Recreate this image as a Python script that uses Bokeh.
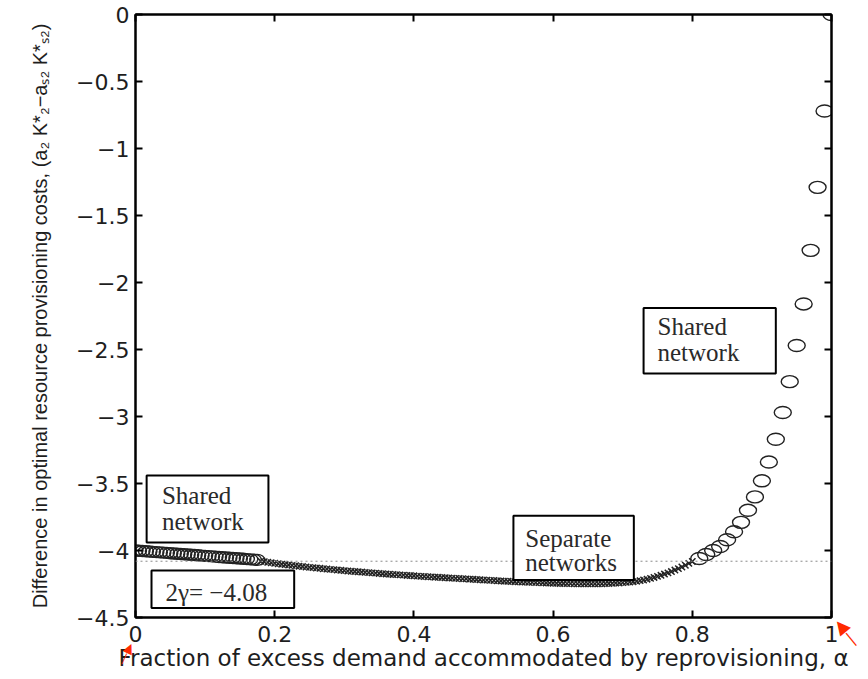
import math
from bokeh.plotting import figure
from bokeh.models import (Range1d, LinearAxis, FixedTicker, Span, BoxAnnotation, Label)
from bokeh.embed import file_html
from bokeh.resources import INLINE

# ---------------- data ----------------
left_pts = [
    (0.000, -4.000), (0.005, -4.002), (0.010, -4.004), (0.015, -4.006), (0.020, -4.008),
    (0.025, -4.010), (0.030, -4.012), (0.035, -4.014), (0.040, -4.016), (0.045, -4.018),
    (0.050, -4.020), (0.055, -4.022), (0.060, -4.024), (0.065, -4.026), (0.070, -4.028),
    (0.075, -4.030), (0.080, -4.032), (0.085, -4.034), (0.090, -4.036), (0.095, -4.038),
    (0.100, -4.040), (0.105, -4.042), (0.110, -4.044), (0.115, -4.046), (0.120, -4.048),
    (0.125, -4.050), (0.130, -4.052), (0.135, -4.054), (0.140, -4.056), (0.145, -4.058),
    (0.150, -4.060), (0.155, -4.062), (0.160, -4.064), (0.165, -4.066), (0.170, -4.068),
    (0.175, -4.070),
]
mid_pts = [
    (0.180, -4.080), (0.185, -4.084), (0.190, -4.088), (0.195, -4.092), (0.200, -4.095),
    (0.205, -4.099), (0.210, -4.102), (0.215, -4.105), (0.220, -4.108), (0.225, -4.111),
    (0.230, -4.114), (0.235, -4.117), (0.240, -4.120), (0.245, -4.123), (0.250, -4.126),
    (0.255, -4.128), (0.260, -4.131), (0.265, -4.133), (0.270, -4.136), (0.275, -4.138),
    (0.280, -4.141), (0.285, -4.143), (0.290, -4.146), (0.295, -4.148), (0.300, -4.150),
    (0.305, -4.153), (0.310, -4.155), (0.315, -4.157), (0.320, -4.159), (0.325, -4.161),
    (0.330, -4.163), (0.335, -4.165), (0.340, -4.167), (0.345, -4.169), (0.350, -4.171),
    (0.355, -4.173), (0.360, -4.175), (0.365, -4.177), (0.370, -4.179), (0.375, -4.180),
    (0.380, -4.182), (0.385, -4.184), (0.390, -4.186), (0.395, -4.187), (0.400, -4.189),
    (0.405, -4.191), (0.410, -4.193), (0.415, -4.194), (0.420, -4.196), (0.425, -4.197),
    (0.430, -4.199), (0.435, -4.200), (0.440, -4.202), (0.445, -4.203), (0.450, -4.205),
    (0.455, -4.206), (0.460, -4.208), (0.465, -4.209), (0.470, -4.211), (0.475, -4.212),
    (0.480, -4.214), (0.485, -4.215), (0.490, -4.217), (0.495, -4.218), (0.500, -4.220),
    (0.505, -4.221), (0.510, -4.223), (0.515, -4.224), (0.520, -4.226), (0.525, -4.227),
    (0.530, -4.229), (0.535, -4.230), (0.540, -4.231), (0.545, -4.233), (0.550, -4.234),
    (0.555, -4.235), (0.560, -4.236), (0.565, -4.237), (0.570, -4.238), (0.575, -4.239),
    (0.580, -4.240), (0.585, -4.241), (0.590, -4.242), (0.595, -4.243), (0.600, -4.244),
    (0.605, -4.245), (0.610, -4.246), (0.615, -4.246), (0.620, -4.247), (0.625, -4.247),
    (0.630, -4.248), (0.635, -4.248), (0.640, -4.249), (0.645, -4.249), (0.650, -4.249),
    (0.655, -4.249), (0.660, -4.249), (0.665, -4.248), (0.670, -4.248), (0.675, -4.247),
    (0.680, -4.246), (0.685, -4.245), (0.690, -4.243), (0.695, -4.242), (0.700, -4.240),
    (0.705, -4.238), (0.710, -4.236), (0.715, -4.233), (0.720, -4.229), (0.725, -4.225),
    (0.730, -4.220), (0.735, -4.214), (0.740, -4.208), (0.745, -4.201), (0.750, -4.193),
    (0.755, -4.185), (0.760, -4.176), (0.765, -4.167), (0.770, -4.157), (0.775, -4.146),
    (0.780, -4.135), (0.785, -4.123), (0.790, -4.110), (0.795, -4.096), (0.800, -4.082),
]
right_pts = [
    (0.81, -4.06), (0.82, -4.03), (0.83, -4.00), (0.84, -3.97), (0.85, -3.92),
    (0.86, -3.86), (0.87, -3.79), (0.88, -3.70), (0.89, -3.60), (0.90, -3.48),
    (0.91, -3.34), (0.92, -3.17), (0.93, -2.97), (0.94, -2.74), (0.95, -2.47),
    (0.96, -2.16), (0.97, -1.76), (0.98, -1.29), (0.99, -0.72), (1.00, 0.00),
]
two_gamma = -4.08

x_ticks = [0, 0.2, 0.4, 0.6, 0.8, 1]
x_tick_labels = ["0", "0.2", "0.4", "0.6", "0.8", "1"]
y_ticks = [0, -0.5, -1, -1.5, -2, -2.5, -3, -3.5, -4, -4.5]
y_tick_labels = ["0", "\u22120.5", "\u22121", "\u22121.5", "\u22122", "\u22122.5",
                 "\u22123", "\u22123.5", "\u22124", "\u22124.5"]

left_a = [a for a, _ in left_pts]; left_c = [c for _, c in left_pts]
mid_a = [a for a, _ in mid_pts]; mid_c = [c for _, c in mid_pts]
right_a = [a for a, _ in right_pts]; right_c = [c for _, c in right_pts]

# ---------------- figure ----------------
p = figure(frame_width=696, frame_height=603,
           x_range=Range1d(0, 1), y_range=Range1d(-4.5, 0),
           output_backend="svg", toolbar_location=None,
           min_border_left=135, min_border_right=37,
           min_border_top=14, min_border_bottom=62)
p.xgrid.visible = False
p.ygrid.visible = False
p.outline_line_color = "black"
p.outline_line_width = 2
p.background_fill_color = "white"
p.border_fill_color = "white"

TICK_FONT = "DejaVu Sans"
INK = "#1e1e1e"

def style(ax, ticks, labels, show):
    ax.ticker = FixedTicker(ticks=ticks)
    ax.axis_line_width = 2
    ax.axis_line_color = "black"
    ax.major_tick_in = 7
    ax.major_tick_out = 0
    ax.major_tick_line_width = 2
    ax.major_tick_line_color = "black"
    ax.minor_tick_line_color = None
    if show:
        ax.major_label_overrides = {t: l for t, l in zip(ticks, labels)}
        ax.major_label_text_font = TICK_FONT
        ax.major_label_text_font_size = "22px"
        ax.major_label_text_color = INK
    else:
        ax.major_label_text_font_size = "0px"
        ax.major_label_text_color = None
        ax.major_label_standoff = 0

xb = p.xaxis[0]
yl = p.yaxis[0]
style(xb, x_ticks, x_tick_labels, True)
style(yl, y_ticks, y_tick_labels, True)
xb.major_label_standoff = 8
yl.major_label_standoff = 6

xt = LinearAxis()
style(xt, x_ticks, x_tick_labels, False)
p.add_layout(xt, "above")
yr = LinearAxis()
style(yr, y_ticks, y_tick_labels, False)
p.add_layout(yr, "right")

xb.axis_label = "Fraction of excess demand accommodated by reprovisioning, \u03b1"
xb.axis_label_text_font = TICK_FONT
xb.axis_label_text_font_size = "23px"
xb.axis_label_text_font_style = "normal"
xb.axis_label_text_color = INK
xb.axis_label_standoff = 0

yl.axis_label = "Difference in optimal resource provisioning costs, (a\u2082 K*\u2082\u2212a\u209b\u2082 K*\u209b\u2082)"
yl.axis_label_text_font = "Liberation Sans"
yl.axis_label_text_font_size = "20px"
yl.axis_label_text_font_style = "normal"
yl.axis_label_text_color = INK
yl.axis_label_standoff = 22

# reference line 2*gamma
p.add_layout(Span(location=two_gamma, dimension="width", line_color="#8a8a8a",
                  line_width=1, line_dash="2 3"))

# markers
p.ellipse(x=left_a, y=left_c, width=15, height=11, width_units="screen",
          height_units="screen", fill_color=None, line_color="#222222", line_width=1.4)
p.scatter(x=mid_a, y=mid_c, marker="x", size=9, line_color="#222222", line_width=1.5)
p.ellipse(x=right_a, y=right_c, width=17, height=12, width_units="screen",
          height_units="screen", fill_color=None, line_color="#222222", line_width=1.4)

# boxed annotations
SERIF = "Liberation Serif"
def box(l, r, t, b):
    p.add_layout(BoxAnnotation(left=l, right=r, top=t, bottom=b, fill_color="white",
                               fill_alpha=1, line_color="black", line_width=2, line_alpha=1))

def txt(x, y, s):
    p.add_layout(Label(x=x, y=y, text=s, text_font=SERIF, text_font_size="25px",
                       text_color="#2a2a2a", text_baseline="middle", text_align="left"))

box(0.730, 0.920, -2.19, -2.68)
txt(0.750, -2.33, "Shared")
txt(0.750, -2.52, "network")

box(0.016, 0.191, -3.44, -3.94)
txt(0.038, -3.59, "Shared")
txt(0.038, -3.78, "network")

box(0.543, 0.716, -3.74, -4.22)
txt(0.560, -3.91, "Separate")
txt(0.560, -4.09, "networks")

box(0.023, 0.228, -4.15, -4.43)
txt(0.043, -4.31, "2\u03b3= \u22124.08")

# red pointer arrows: rotated text (em dash + filled triangle) placed in the side
# panels (annotations in the centre are clipped to the frame)
RED = "#ff2a00"
arrow_specs = [("left", (125.1, 653.4), 64.7, "13px"), ("right", (845.1, 634.4), 129.2, "18px")]
for side, (cx, cy), ang, fs in arrow_specs:
    p.add_layout(Label(x=cx, y=cy, x_units="canvas", y_units="canvas",
                       text="\u2014\u25b6", text_color=RED, text_font="DejaVu Sans",
                       text_font_size=fs, text_align="center", text_baseline="middle",
                       angle=math.radians(ang)), side)

open("out.html", "w").write(file_html(p, INLINE))
